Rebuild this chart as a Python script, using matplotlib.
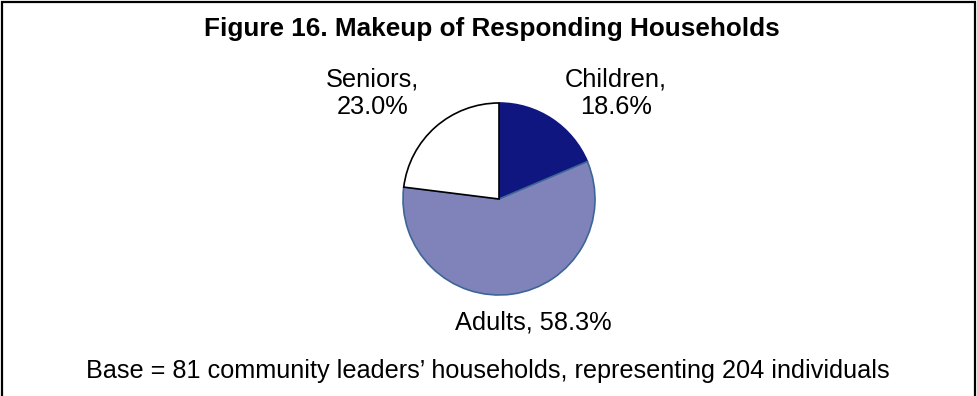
import matplotlib
matplotlib.use("Agg")
import matplotlib.pyplot as plt
from matplotlib.patches import Rectangle

plt.rcParams['font.family'] = ['Liberation Sans', 'DejaVu Sans']

labels = ['Children', 'Adults', 'Seniors']
shares = [18.6, 58.3, 23.0]
colors = ['#10167f', '#7f83ba', '#ffffff']
edges = ['#10167f', '#3d6596', '#000000']

title = 'Figure 16. Makeup of Responding Households'
note = 'Base = 81 community leaders\u2019 households, representing 204 individuals'

W, H = 977, 396
fig = plt.figure(figsize=(W / 100, H / 100), dpi=100)

# frame around the figure (open at the bottom)
fig.add_artist(Rectangle((1.5 / W, -0.05), (W - 3.5) / W, 1.05 - 1.5 / H,
                         transform=fig.transFigure, fill=False,
                         edgecolor='black', linewidth=1.6))

cx, cy, r = 499, 199, 96
ax = fig.add_axes([(cx - r) / W, (H - cy - r) / H, 2 * r / W, 2 * r / H])
wedges, _ = ax.pie(shares, colors=colors, startangle=90, counterclock=False,
                   radius=1.0, wedgeprops=dict(linewidth=1.2))
for w, ec in zip(wedges, edges):
    w.set_edgecolor(ec)
wedges[2].set_zorder(3)
ax.set_xlim(-1, 1)
ax.set_ylim(-1, 1)
ax.set_aspect('equal')
ax.axis('off')

# label positions in data units around the pie
label_pos = {'Children': (1.22, 1.10, 'two'),
             'Seniors': (-1.32, 1.10, 'two'),
             'Adults': (0.354, -1.29, 'one')}
for lab, val in zip(labels, shares):
    x, y, mode = label_pos[lab]
    txt = f'{lab},\n{val:.1f}%' if mode == 'two' else f'{lab}, {val:.1f}%'
    ax.text(x, y, txt, ha='center', va='center', fontsize=18.3,
            linespacing=1.22, clip_on=False)

fig.text(492 / W, 1 - 29 / H, title, ha='center', va='center',
         fontsize=18.8, fontweight='bold')
fig.text(488 / W, 1 - 371 / H, note, ha='center', va='center', fontsize=18.2)

fig.savefig('out.png', dpi=100)
